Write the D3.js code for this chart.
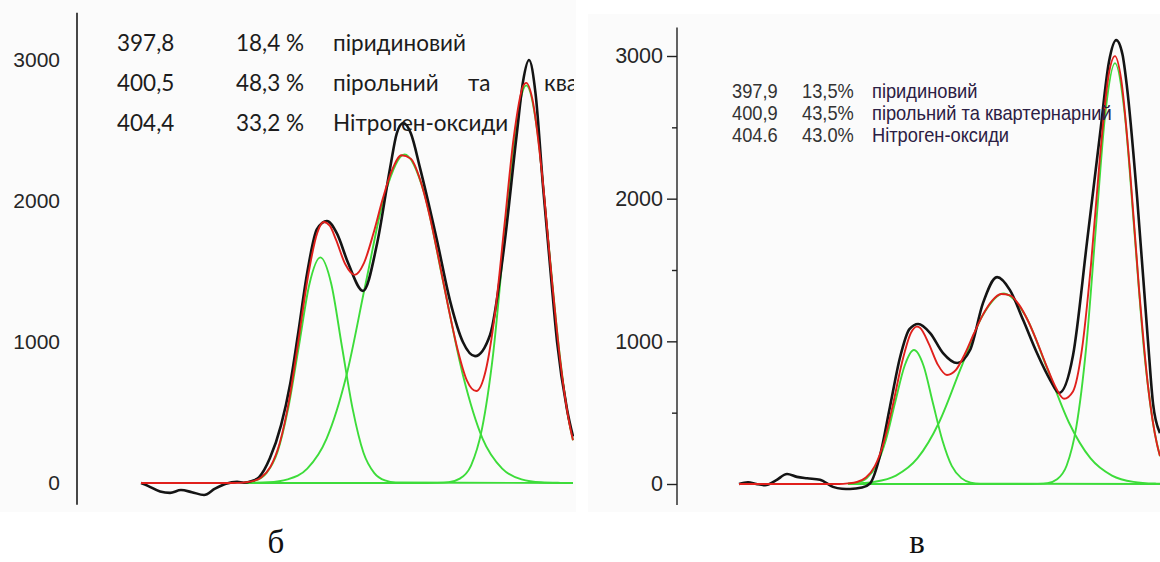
<!DOCTYPE html>
<html>
<head>
<meta charset="utf-8">
<script src="https://cdn.jsdelivr.net/npm/d3@7"></script>
<style>
  html, body { margin: 0; padding: 0; background: #ffffff; }
  svg { display: block; }
</style>
</head>
<body>
<svg id="chart" width="1160" height="562"></svg>
<script>
// N1s spectra, binding energy (eV) vs intensity, with peak deconvolution.

// ---------- Panel б ----------
const bMeasured = [
  [392.05, 0], [392.27, -20], [392.66, -60], [392.98, -70], [393.33, -50], [393.68, -65],
  [394.07, -85], [394.42, -40], [394.77, -5], [395.13, 8], [395.35, 2], [395.61, 15],
  [395.83, 40], [396.18, 175], [396.54, 410], [396.83, 700], [397.08, 1050], [397.37, 1480],
  [397.69, 1800], [398.01, 1858], [398.33, 1770], [398.69, 1560], [399.17, 1362], [399.62, 1700],
  [400.04, 2240], [400.25, 2480], [400.46, 2553], [400.7, 2480], [401.0, 2230], [401.54, 1720],
  [401.96, 1290], [402.37, 1000], [402.76, 900], [403.24, 1050], [403.66, 1620], [404.1, 2480],
  [404.3, 2850], [404.49, 3000], [404.7, 2760], [404.94, 2100], [405.2, 1450], [405.39, 1000],
  [405.71, 520], [405.9, 330]
];
const bEnvelope = [
  [392.05, 0], [395.0, 0], [395.3, 3], [395.6, 11], [395.9, 39], [396.2, 115], [396.5, 285],
  [396.8, 589], [397.1, 1014], [397.4, 1461], [397.7, 1773], [397.9, 1851], [398.1, 1825],
  [398.3, 1726], [398.6, 1551], [398.9, 1476], [399.2, 1561], [399.5, 1769], [399.8, 2016],
  [400.1, 2220], [400.4, 2324], [400.7, 2300], [401.0, 2151], [401.3, 1898], [401.6, 1583],
  [401.9, 1250], [402.2, 947], [402.5, 726], [402.8, 652], [403.1, 796], [403.4, 1204],
  [403.7, 1823], [404.0, 2452], [404.3, 2815], [404.4, 2838], [404.6, 2721], [404.9, 2206],
  [405.2, 1496], [405.5, 850], [405.8, 404], [405.9, 303]
];
const bPyridinic = [
  [395.35, 3], [395.73, 18], [396.07, 70], [396.42, 216], [396.76, 520], [397.11, 970],
  [397.45, 1412], [397.8, 1600], [398.15, 1412], [398.49, 970], [398.84, 520], [399.18, 216],
  [399.53, 70], [399.87, 18], [400.22, 4], [405.9, 0]
];
const bPyrrolic = [
  [395.35, 0], [395.5, 1], [396.13, 5], [396.75, 26], [397.38, 102], [398.0, 315],
  [398.63, 757], [399.25, 1413], [399.88, 2056], [400.5, 2330], [401.13, 2056], [401.75, 1413],
  [402.38, 757], [403.0, 315], [403.63, 102], [404.25, 26], [404.88, 5], [405.5, 1], [405.9, 0]
];
const bOxide = [
  [395.35, 0], [401.2, 0], [401.56, 1], [401.92, 6], [402.27, 31], [402.63, 124], [402.98, 382],
  [403.34, 916], [403.69, 1710], [404.05, 2489], [404.4, 2820], [404.76, 2489], [405.11, 1710],
  [405.47, 916], [405.75, 464], [405.9, 303]
];
const bEnergies = ["397,8", "400,5", "404,4"];
const bShares = ["18,4 %", "48,3 %", "33,2 %"];

// ---------- Panel в ----------
const vMeasured = [
  [392.07, 0], [392.37, 12], [392.65, 0], [392.94, -8], [393.3, 25], [393.67, 70], [394.0, 50],
  [394.34, 40], [394.77, 30], [395.2, -20], [395.5, -33], [395.77, -35], [396.17, -25],
  [396.44, 5], [396.77, 200], [397.1, 540], [397.44, 890], [397.75, 1085], [398.04, 1121],
  [398.44, 1058], [398.87, 918], [399.34, 848], [399.77, 939], [400.2, 1268], [400.67, 1450],
  [401.1, 1359], [401.54, 1149], [402.0, 918], [402.44, 729], [402.74, 638], [403.2, 900],
  [403.67, 1700], [404.1, 2450], [404.4, 2960], [404.64, 3111], [404.85, 3010], [405.0, 2782],
  [405.34, 2000], [405.7, 1000], [405.87, 560], [406.1, 357]
];
const vEnvelope = [
  [392.07, 0], [395.4, 0], [395.7, 4], [396.0, 14], [396.3, 45], [396.6, 127], [396.9, 295],
  [397.2, 556], [397.5, 850], [397.8, 1059], [398.0, 1103], [398.1, 1095], [398.4, 981],
  [398.7, 835], [399.0, 764], [399.3, 800], [399.6, 913], [399.9, 1055], [400.2, 1187],
  [400.5, 1284], [400.8, 1332], [401.1, 1322], [401.4, 1257], [401.7, 1144], [402.0, 998],
  [402.3, 837], [402.6, 688], [402.9, 598], [403.2, 649], [403.5, 945], [403.8, 1537],
  [404.1, 2293], [404.4, 2881], [404.6, 2999], [404.8, 2845], [405.1, 2199], [405.4, 1371],
  [405.7, 688], [406.0, 279], [406.1, 196]
];
const vPyridinic = [
  [395.7, 2], [396.01, 10], [396.33, 41], [396.64, 127], [396.96, 305], [397.27, 569],
  [397.59, 829], [397.9, 939], [398.22, 829], [398.53, 569], [398.85, 305], [399.16, 127],
  [399.48, 41], [399.79, 10], [400.11, 2], [406.1, 0]
];
const vPyrrolic = [
  [395.7, 2], [396.22, 7], [396.58, 15], [397.3, 59], [398.02, 181], [398.74, 433],
  [399.46, 810], [400.18, 1178], [400.9, 1335], [401.62, 1178], [402.34, 810], [403.06, 433],
  [403.78, 181], [404.5, 59], [405.22, 15], [405.94, 3], [406.1, 2]
];
const vOxide = [
  [395.7, 0], [401.7, 0], [402.03, 1], [402.35, 6], [402.67, 33], [402.99, 130], [403.31, 399],
  [403.64, 958], [403.96, 1789], [404.28, 2603], [404.6, 2950], [404.92, 2603], [405.24, 1789],
  [405.56, 958], [405.89, 399], [406.1, 194]
];
const vEnergies = ["397,9", "400,9", "404.6"];
const vShares = ["13,5%", "43,5%", "43.0%"];

// ---------- shared ----------
const speciesNames = ["піридиновий", "пірольний та квартернарний", "Нітроген-оксиди"];
const majorTicks = [0, 1000, 2000, 3000];
const minorTicks = [500, 1500, 2500];
const captions = ["б", "в"];

const svg = d3.select("#chart");
const defs = svg.append("defs");

const COLORS = { measured: "#141414", envelope: "#e0201c", component: "#3ddc3a" };

function drawCurves(g, x, y, measured, envelope, comps) {
  const line = d3.line()
    .x(d => x(d[0]))
    .y(d => y(d[1]))
    .curve(d3.curveMonotoneX);
  g.selectAll("path.comp")
    .data(comps)
    .join("path")
    .attr("class", "comp")
    .attr("d", line)
    .attr("fill", "none")
    .attr("stroke", COLORS.component)
    .attr("stroke-width", 1.9);
  g.append("path").datum(measured)
    .attr("d", line)
    .attr("fill", "none")
    .attr("stroke", COLORS.measured)
    .attr("stroke-width", 2.6)
    .attr("stroke-linejoin", "round");
  g.append("path").datum(envelope)
    .attr("d", line)
    .attr("fill", "none")
    .attr("stroke", COLORS.envelope)
    .attr("stroke-width", 1.9);
}

// ---------- panel б ----------
{
  const x = d3.scaleLinear().domain([391.6, 405.9]).range([127, 573]);
  const y = d3.scaleLinear().domain([0, 3000]).range([483, 60]);

  svg.append("rect").attr("x", 0).attr("y", 0).attr("width", 576).attr("height", 512).attr("fill", "#fbfbfb");

  defs.append("clipPath").attr("id", "clipB")
    .append("rect").attr("x", 0).attr("y", 0).attr("width", 574).attr("height", 562);

  const g = svg.append("g").attr("clip-path", "url(#clipB)");

  // axis: bare vertical line with labels, no tick marks
  g.append("line")
    .attr("x1", 77).attr("x2", 77)
    .attr("y1", y(3335)).attr("y2", y(-155))
    .attr("stroke", "#1a1a1a").attr("stroke-width", 1.6);
  const ax = g.append("g").attr("transform", "translate(77,0)")
    .call(d3.axisLeft(y).tickValues(majorTicks).tickSize(0).tickPadding(17).tickFormat(d3.format("d")));
  ax.select(".domain").remove();
  ax.selectAll("text")
    .attr("font-family", "'Liberation Sans', Arial, sans-serif")
    .attr("font-size", 21).attr("fill", "#262626");

  drawCurves(g, x, y, bMeasured, bEnvelope, [bPyridinic, bPyrrolic, bOxide]);

  // peak table
  const tf = "Lato, 'Open Sans', sans-serif";
  const rowY = [51, 91, 131];
  const t = g.append("g").attr("font-family", tf).attr("font-size", 22.5).attr("fill", "#1c1c1c");
  t.selectAll("text.e").data(bEnergies).join("text").attr("class", "e")
    .attr("x", 117).attr("y", (d, i) => rowY[i]).text(d => d);
  t.selectAll("text.s").data(bShares).join("text").attr("class", "s")
    .attr("x", 304).attr("y", (d, i) => rowY[i]).attr("text-anchor", "end").text(d => d);
  const wordX = [[333], [333, 468, 544], [333]];
  speciesNames.forEach((name, i) => {
    const words = i === 1 ? name.split(" ") : [name];
    const tx = t.append("text").attr("y", rowY[i]);
    words.forEach((w, j) => tx.append("tspan").attr("x", wordX[i][j]).text(w));
  });

  svg.append("text")
    .attr("x", 276).attr("y", 553)
    .attr("text-anchor", "middle")
    .attr("font-family", "'Liberation Serif', 'Times New Roman', serif")
    .attr("font-size", 33).attr("fill", "#111")
    .text(captions[0]);
}

// ---------- panel в ----------
{
  const x = d3.scaleLinear().domain([392.07, 406.1]).range([739, 1160]);
  const y = d3.scaleLinear().domain([0, 3000]).range([484, 56]);

  svg.append("rect").attr("x", 588).attr("y", 14).attr("width", 572).attr("height", 498).attr("fill", "#fbfbfb");

  const g = svg.append("g");

  g.append("line")
    .attr("x1", 677).attr("x2", 677)
    .attr("y1", y(3200)).attr("y2", y(-148))
    .attr("stroke", "#222").attr("stroke-width", 1.4);

  const axMinor = g.append("g").attr("transform", "translate(677,0)")
    .call(d3.axisLeft(y).tickValues(minorTicks).tickSize(5).tickFormat(""));
  axMinor.select(".domain").remove();
  axMinor.selectAll("line").attr("stroke", "#222").attr("stroke-width", 1.4);

  const ax = g.append("g").attr("transform", "translate(677,0)")
    .call(d3.axisLeft(y).tickValues(majorTicks).tickSize(10).tickPadding(4).tickFormat(d3.format("d")));
  ax.select(".domain").remove();
  ax.selectAll("line").attr("stroke", "#222").attr("stroke-width", 1.4);
  ax.selectAll("text")
    .attr("font-family", "'Liberation Sans', Arial, sans-serif")
    .attr("font-size", 21.5).attr("fill", "#262626");

  drawCurves(g, x, y, vMeasured, vEnvelope, [vPyridinic, vPyrrolic, vOxide]);

  // condensed peak table: each text squeezed horizontally about its own left edge
  const tf = "'Liberation Sans', Arial, sans-serif";
  const rowY = [98, 120, 142];
  const squeeze = 0.87;
  const t = g.append("g").attr("font-family", tf).attr("font-size", 21);
  const columns = [
    { cls: "e", xPos: 732, data: vEnergies, fill: "#333" },
    { cls: "s", xPos: 802, data: vShares, fill: "#333" },
    { cls: "n", xPos: 872, data: speciesNames, fill: "#2c2044" }
  ];
  columns.forEach(col => {
    t.selectAll("text." + col.cls).data(col.data).join("text").attr("class", col.cls)
      .attr("transform", (d, i) => `translate(${col.xPos},${rowY[i]}) scale(${squeeze},1)`)
      .attr("fill", col.fill)
      .text(d => d);
  });

  svg.append("text")
    .attr("x", 917).attr("y", 553)
    .attr("text-anchor", "middle")
    .attr("font-family", "'Liberation Serif', 'Times New Roman', serif")
    .attr("font-size", 33).attr("fill", "#111")
    .text(captions[1]);
}
</script>
</body>
</html>
